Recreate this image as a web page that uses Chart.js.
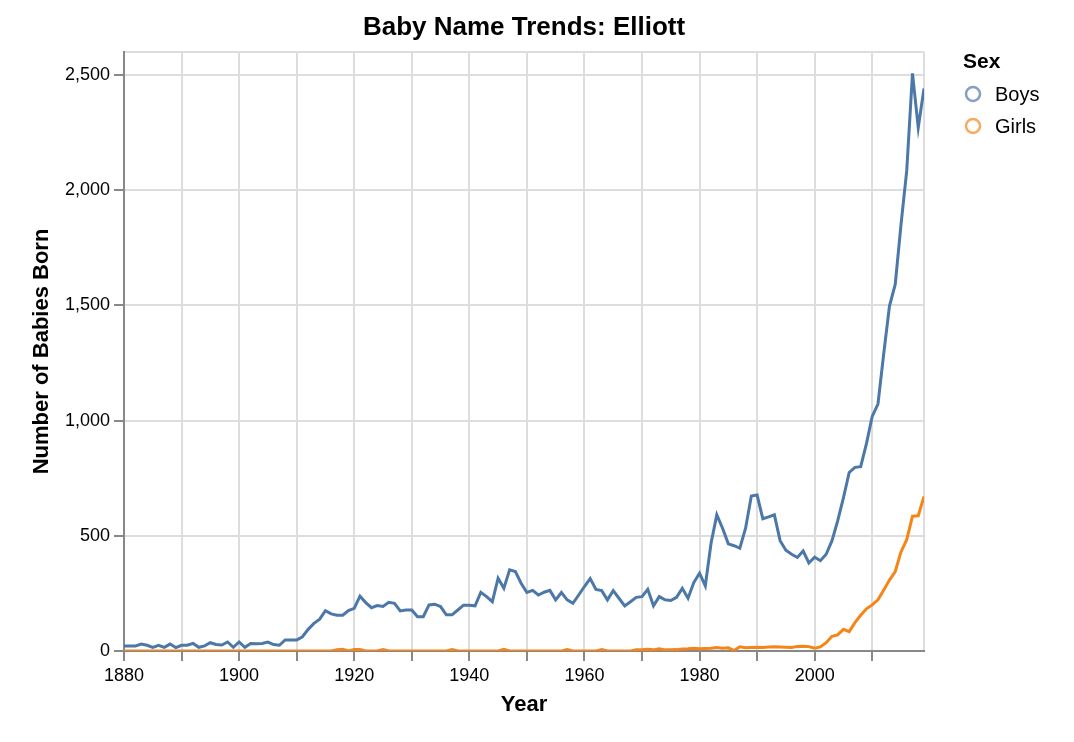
<!DOCTYPE html>
<html>
<head>
<meta charset="utf-8">
<script src="https://cdn.jsdelivr.net/npm/chart.js@4/dist/chart.umd.min.js"></script>
<style>
  html, body { margin: 0; padding: 0; background: #fff; }
  #wrap { width: 1074px; height: 742px; position: relative; }
</style>
</head>
<body>
<div id="wrap"><canvas id="chart" width="1074" height="742"></canvas></div>
<script>
const chartTitle = "Baby Name Trends: Elliott";
const legendTitle = "Sex";
const seriesNames = ["Boys", "Girls"];
const seriesColors = ["#4c78a8", "#f58518"];
const legendColors = ["rgba(76,120,168,0.7)", "rgba(245,133,24,0.7)"];

const firstYear = 1880;
const lastYear = 2019;
const years = [];
for (let y = firstYear; y <= lastYear; y++) years.push(y);

// 1880 .. 2019
const boys = [
  22, 22, 22, 30, 25, 16, 25, 16, 30, 15,
  25, 25, 33, 16, 22, 36, 28, 26, 39, 16,
  39, 16, 33, 32, 33, 39, 28, 25, 48, 48,
  48, 62, 94, 120, 138, 175, 161, 155, 155, 175,
  185, 238, 210, 188, 197, 193, 211, 207, 174, 178,
  178, 149, 149, 200, 203, 193, 157, 157, 178, 199,
  199, 196, 255, 236, 214, 316, 272, 352, 345, 294,
  254, 263, 243, 255, 263, 222, 254, 222, 207, 243,
  280, 314, 267, 262, 222, 262, 229, 196, 214, 233,
  236, 268, 196, 236, 222, 219, 233, 272, 229, 297,
  338, 283, 468, 591, 533, 465, 457, 446, 533, 673,
  677, 574, 582, 591, 479, 437, 420, 406, 434, 382,
  407, 392, 420, 478, 565, 665, 775, 797, 800, 900,
  1018, 1072, 1290, 1497, 1591, 1850, 2085, 2507, 2272, 2442
];

const girls = [
  0, 0, 0, 0, 0, 0, 0, 0, 0, 0,
  0, 0, 0, 0, 0, 0, 0, 0, 0, 0,
  0, 0, 0, 0, 0, 0, 0, 0, 0, 0,
  0, 0, 0, 0, 0, 0, 0, 5, 8, 0,
  6, 7, 0, 0, 0, 6, 0, 0, 0, 0,
  0, 0, 0, 0, 0, 0, 0, 6, 0, 0,
  0, 0, 0, 0, 0, 0, 7, 0, 0, 0,
  0, 0, 0, 0, 0, 0, 0, 6, 0, 0,
  0, 0, 0, 6, 0, 0, 0, 0, 0, 5,
  5, 8, 5, 10, 5, 5, 6, 9, 10, 12,
  10, 11, 12, 15, 12, 14, 2, 18, 14, 15,
  16, 15, 17, 18, 17, 16, 15, 20, 21, 19,
  12, 18, 36, 64, 70, 94, 84, 123, 155, 183,
  200, 222, 265, 308, 345, 430, 483, 585, 587, 671
];

// tick positions (the last one of each closes the plot frame)
const xTicks = [1880, 1890, 1900, 1910, 1920, 1930, 1940, 1950, 1960, 1970, 1980, 1990, 2000, 2010, 2019];
const xLabelYears = [1880, 1900, 1920, 1940, 1960, 1980, 2000];
const yTicks = [0, 500, 1000, 1500, 2000, 2500, 2600];
const yLabelValues = [0, 500, 1000, 1500, 2000, 2500];
const yMax = 2600;

const FONT = "'Liberation Sans', Arial, Helvetica, sans-serif";
Chart.defaults.font.family = FONT;
Chart.defaults.color = "#000";

const titleAndLegend = {
  id: "titleAndLegend",
  afterDraw(chart) {
    const ctx = chart.ctx;
    const area = chart.chartArea;
    ctx.save();
    ctx.fillStyle = "#000";
    ctx.textBaseline = "middle";
    ctx.textAlign = "center";
    ctx.font = "bold 26px " + FONT;
    ctx.fillText(chartTitle, (area.left + area.right) / 2, 28);

    ctx.textAlign = "left";
    ctx.font = "bold 21px " + FONT;
    ctx.fillText(legendTitle, 963, 62);
    ctx.font = "20px " + FONT;
    seriesNames.forEach((name, i) => {
      const cy = 94 + i * 32;
      ctx.beginPath();
      ctx.arc(973, cy, 7, 0, Math.PI * 2);
      ctx.lineWidth = 2.5;
      ctx.strokeStyle = legendColors[i];
      ctx.stroke();
      ctx.fillStyle = "#000";
      ctx.fillText(name, 995, cy + 1);
    });
    ctx.restore();
  }
};

const tickMarkColor = (list) => (c) =>
  c.tick && list.includes(c.tick.value) ? "#888" : "rgba(0,0,0,0)";

new Chart(document.getElementById("chart"), {
  type: "line",
  data: {
    datasets: [
      {
        label: seriesNames[0],
        data: years.map((y, i) => ({ x: y, y: boys[i] })),
        borderColor: seriesColors[0],
        backgroundColor: seriesColors[0],
        borderWidth: 3,
        pointRadius: 0,
        tension: 0,
        fill: false,
      },
      {
        label: seriesNames[1],
        data: years.map((y, i) => ({ x: y, y: girls[i] })),
        borderColor: seriesColors[1],
        backgroundColor: seriesColors[1],
        borderWidth: 3,
        pointRadius: 0,
        tension: 0,
        fill: false,
      },
    ],
  },
  options: {
    responsive: false,
    animation: false,
    layout: { padding: { top: 52, right: 150, bottom: 0, left: 0 } },
    plugins: {
      legend: { display: false },
      title: { display: false },
      tooltip: { enabled: false },
    },
    scales: {
      x: {
        type: "linear",
        min: firstYear,
        max: lastYear,
        afterBuildTicks: (s) => { s.ticks = xTicks.map((v) => ({ value: v })); },
        ticks: {
          autoSkip: false,
          maxRotation: 0,
          padding: 4,
          font: { size: 18 },
          color: "#000",
          callback: (v) => (xLabelYears.includes(v) ? String(v) : ""),
        },
        grid: {
          color: "#ddd",
          lineWidth: 2,
          tickLength: 10,
          tickWidth: 2,
          tickColor: tickMarkColor(xTicks.slice(0, -1)),
        },
        border: { color: "#888", width: 2 },
        title: {
          display: true,
          text: "Year",
          font: { size: 22, weight: "bold" },
          color: "#000",
          padding: { top: 0, bottom: 24 },
        },
        afterFit: (s) => { s.height = 91; },
      },
      y: {
        min: 0,
        max: yMax,
        afterBuildTicks: (s) => { s.ticks = yTicks.map((v) => ({ value: v })); },
        ticks: {
          autoSkip: false,
          padding: 4,
          font: { size: 18 },
          color: "#000",
          callback: (v) => (yLabelValues.includes(v) ? v.toLocaleString("en-US") : ""),
        },
        grid: {
          color: "#ddd",
          lineWidth: 2,
          tickLength: 10,
          tickWidth: 2,
          tickColor: tickMarkColor(yLabelValues),
        },
        border: { color: "#888", width: 2 },
        title: {
          display: true,
          text: "Number of Babies Born",
          font: { size: 22, weight: "bold" },
          color: "#000",
          padding: { top: 29, bottom: 0 },
        },
        afterFit: (s) => { s.width = 124; },
      },
    },
  },
  plugins: [titleAndLegend],
});
</script>
</body>
</html>
